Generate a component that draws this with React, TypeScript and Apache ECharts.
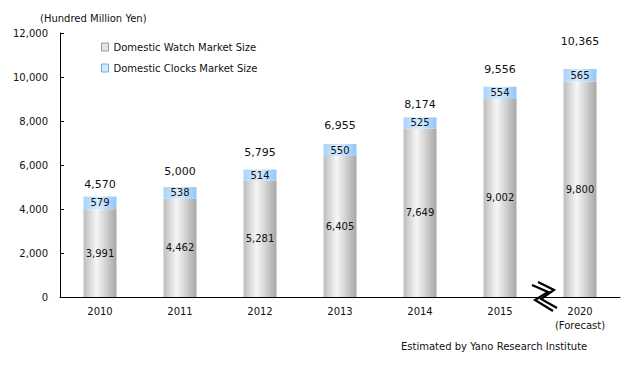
import React, { useEffect, useRef } from "react";
import * as echarts from "echarts";

const categories = ["2010", "2011", "2012", "2013", "2014", "2015", "2020\n(Forecast)"];
const watchValues = [3991, 4462, 5281, 6405, 7649, 9002, 9800];
const clockValues = [579, 538, 514, 550, 525, 554, 565];
const totalValues = [4570, 5000, 5795, 6955, 8174, 9556, 10365];
const totalLabelGaps = [6, 10, 12, 13, 7, 12, 22];
const yTicks = { min: 0, max: 12000, interval: 2000 };

const FONT = "DejaVu Sans";
const fmt = (v: number) => v.toLocaleString("en-US");

export default function App() {
  const ref = useRef<HTMLDivElement>(null);
  useEffect(() => {
    if (!ref.current) return;
    const chart = echarts.init(ref.current, null, { renderer: "svg" });
    const grayGrad = new echarts.graphic.LinearGradient(0, 0, 1, 0, [
      { offset: 0, color: "#bdbdbd" },
      { offset: 0.4, color: "#f6f6f6" },
      { offset: 1, color: "#a6a6a6" },
    ]);
    const blueGrad = new echarts.graphic.LinearGradient(0, 0, 1, 0, [
      { offset: 0, color: "#a9d3fb" },
      { offset: 0.45, color: "#d6ebff" },
      { offset: 1, color: "#94c7f7" },
    ]);
    const textStyle = { fontFamily: FONT, fontSize: 10, color: "#111" };
    chart.setOption({
      animation: false,
      textStyle,
      grid: { left: 60, right: 9, top: 33, bottom: 70, containLabel: false },
      legend: {
        orient: "vertical",
        left: 96,
        top: 37,
        itemWidth: 7,
        itemHeight: 8,
        itemGap: 11,
        textStyle: { ...textStyle, fontSize: 10 },
        data: [
          { name: "Domestic Watch Market Size", icon: "rect", itemStyle: { color: "#e4e4e4", borderColor: "#9a9a9a", borderWidth: 1 } },
          { name: "Domestic Clocks Market Size", icon: "rect", itemStyle: { color: "#d3e8fc", borderColor: "#6aaee8", borderWidth: 1 } },
        ],
      },
      xAxis: {
        type: "category",
        data: categories,
        axisLine: { lineStyle: { color: "#000", width: 1 } },
        axisTick: { inside: true, length: 4, lineStyle: { color: "#000" } },
        axisLabel: { ...textStyle, margin: 7, lineHeight: 14 },
      },
      yAxis: {
        type: "value",
        min: yTicks.min,
        max: yTicks.max,
        interval: yTicks.interval,
        name: "(Hundred Million Yen)",
        nameLocation: "end",
        nameGap: 10,
        nameTextStyle: { ...textStyle, align: "left", padding: [0, 0, 0, -20] },
        axisLine: { show: true, lineStyle: { color: "#000", width: 1 } },
        axisTick: { show: true, inside: true, length: 4, lineStyle: { color: "#000" } },
        splitLine: { show: false },
        axisLabel: { ...textStyle, margin: 12, formatter: (v: number) => fmt(v) },
      },
      series: [
        {
          name: "Domestic Watch Market Size",
          type: "bar",
          stack: "total",
          barWidth: 33,
          data: watchValues,
          itemStyle: { color: grayGrad },
          label: { show: true, position: "inside", formatter: (p: any) => fmt(p.value), ...textStyle },
        },
        {
          name: "Domestic Clocks Market Size",
          type: "bar",
          stack: "total",
          barWidth: 33,
          data: clockValues,
          itemStyle: { color: blueGrad },
          label: { show: true, position: "inside", formatter: (p: any) => fmt(p.value), ...textStyle },
        },
        {
          name: "Total",
          type: "scatter",
          symbolSize: 0,
          itemStyle: { color: "#000", opacity: 1 },
          data: totalValues.map((v, i) => ({
            value: v,
            label: { distance: totalLabelGaps[i] },
          })),
          label: {
            show: true,
            position: "top",
            formatter: (p: any) => fmt(p.value),
            fontFamily: FONT,
            fontSize: 11,
            color: "#111",
          },
          z: 5,
        },
      ],
      graphic: [
        {
          type: "polygon",
          z: 100,
          shape: { points: [[532, 285], [548, 292], [535, 300], [553, 311], [557, 308], [541, 299], [554, 290], [538, 282]] },
          style: { fill: "#fff" },
        },
        {
          type: "polyline",
          z: 101,
          shape: { points: [[532, 285], [548, 292], [535, 300], [553, 311]] },
          style: { stroke: "#000", lineWidth: 2.2, fill: null },
        },
        {
          type: "polyline",
          z: 101,
          shape: { points: [[538, 282], [554, 290], [541, 299], [557, 308]] },
          style: { stroke: "#000", lineWidth: 2.2, fill: null },
        },
        {
          type: "text",
          left: 401,
          top: 341,
          style: { text: "Estimated by Yano Research Institute", font: `10px "${FONT}"`, fill: "#111" },
        },
      ],
    });
    return () => chart.dispose();
  }, []);
  return <div ref={ref} style={{ width: 629, height: 367, margin: -8 }} />;
}
